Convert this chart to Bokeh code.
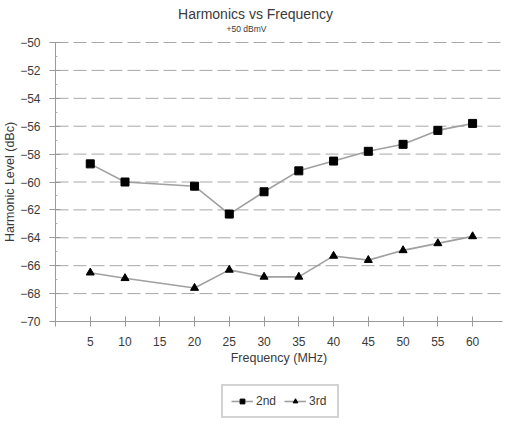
from bokeh.plotting import figure
from bokeh.models import Label, Legend, LegendItem, FixedTicker, Range1d
from bokeh.embed import file_html
from bokeh.resources import INLINE

freq_2nd = [5, 10, 20, 25, 30, 35, 40, 45, 50, 55, 60]
level_2nd = [-58.7, -60.0, -60.3, -62.3, -60.7, -59.2, -58.5, -57.8, -57.3, -56.3, -55.8]
freq_3rd = [5, 10, 20, 25, 30, 35, 40, 45, 50, 55, 60]
level_3rd = [-66.5, -66.9, -67.6, -66.3, -66.8, -66.8, -65.3, -65.6, -64.9, -64.4, -63.9]
x_ticks = [0, 5, 10, 15, 20, 25, 30, 35, 40, 45, 50, 55, 60]
x_tick_labels = ["", "5", "10", "15", "20", "25", "30", "35", "40", "45", "50", "55", "60"]
y_ticks = [-70, -68, -66, -64, -62, -60, -58, -56, -54, -52, -50]

title_text = "Harmonics vs Frequency"
subtitle_text = "+50 dBmV"

X_MIN, X_MAX = 0, 64.3
Y_MIN, Y_MAX = -70, -50

W, H = 504, 419
FONT = "Liberation Sans"
TXT = "#3a3a3a"

# the frame covers the whole canvas; axes are pinned at data positions
p = figure(width=W, height=H, output_backend="svg", toolbar_location=None,
           x_range=Range1d(-7.911, 64.588), y_range=Range1d(-77.025, -46.989),
           min_border_left=0, min_border_right=0, min_border_top=0, min_border_bottom=0,
           background_fill_color="white", border_fill_color="white")
p.outline_line_color = None
p.xgrid.grid_line_color = None
p.ygrid.grid_line_color = None

# titles (screen units from the frame's bottom-left)
p.add_layout(Label(x=255, y=H - 13.5, x_units="screen", y_units="screen", text=title_text,
                   text_font=FONT, text_font_size="14px", text_color=TXT,
                   text_align="center", text_baseline="middle"))
p.add_layout(Label(x=246, y=H - 28, x_units="screen", y_units="screen", text=subtitle_text,
                   text_font=FONT, text_font_size="8.5px", text_color=TXT,
                   text_align="center", text_baseline="middle"))

# horizontal dashed grid lines across the plot area
grid_y = [v for v in y_ticks if v != Y_MIN]
p.segment(x0=[X_MIN] * len(grid_y), x1=[X_MAX] * len(grid_y), y0=grid_y, y1=grid_y,
          line_color="#a8a8a8", line_dash="13 5", line_width=1)

# axes
p.xaxis.fixed_location = Y_MIN
p.xaxis.bounds = (X_MIN, X_MAX)
p.yaxis.fixed_location = X_MIN
p.yaxis.bounds = (Y_MIN, Y_MAX)
p.xaxis.ticker = FixedTicker(ticks=x_ticks)
p.xaxis.major_label_overrides = {t: l for t, l in zip(x_ticks, x_tick_labels)}
p.yaxis.ticker = FixedTicker(ticks=y_ticks, minor_ticks=[v + 1 for v in y_ticks[:-1]])
for ax in (p.xaxis, p.yaxis):
    ax.axis_line_color = "#9a9a9a"
    ax.major_tick_line_color = "#9a9a9a"
    ax.minor_tick_line_color = "#b0b0b0"
    ax.major_label_text_font = FONT
    ax.major_label_text_font_size = "12px"
    ax.major_label_text_color = TXT
    ax.axis_label_text_font = FONT
    ax.axis_label_text_font_size = "12.5px"
    ax.axis_label_text_color = TXT
    ax.axis_label_text_font_style = "normal"
p.xaxis.major_tick_in = 5
p.xaxis.major_tick_out = 5
p.xaxis.minor_tick_line_color = None
p.xaxis.major_label_standoff = 10
p.xaxis.axis_label = "Frequency (MHz)"
p.xaxis.axis_label_standoff = 2
p.yaxis.major_tick_in = 5
p.yaxis.major_tick_out = 6
p.yaxis.minor_tick_in = 2
p.yaxis.minor_tick_out = 0
p.yaxis.major_label_standoff = 9
p.yaxis.axis_label = "Harmonic Level (dBc)"
p.yaxis.axis_label_standoff = 0

l2 = p.line(freq_2nd, level_2nd, line_color="#a0a0a0", line_width=1.6)
s2 = p.scatter(freq_2nd, level_2nd, marker="square", size=8, fill_color="black", line_color="black")
l3 = p.line(freq_3rd, level_3rd, line_color="#a0a0a0", line_width=1.6)
s3 = p.scatter(freq_3rd, level_3rd, marker="triangle", size=8, fill_color="black", line_color="black")

legend = Legend(items=[LegendItem(label="2nd", renderers=[l2, s2]),
                       LegendItem(label="3rd", renderers=[l3, s3])],
                orientation="horizontal", location=(221, 1),
                label_text_font=FONT, label_text_font_size="12px", label_text_color=TXT,
                border_line_color="#a8a8a8", border_line_width=2,
                glyph_width=22, glyph_height=12, label_standoff=3, spacing=8,
                padding=8, margin=0, label_height=12)
p.add_layout(legend, "center")

open("out.html", "w").write(file_html(p, INLINE))
